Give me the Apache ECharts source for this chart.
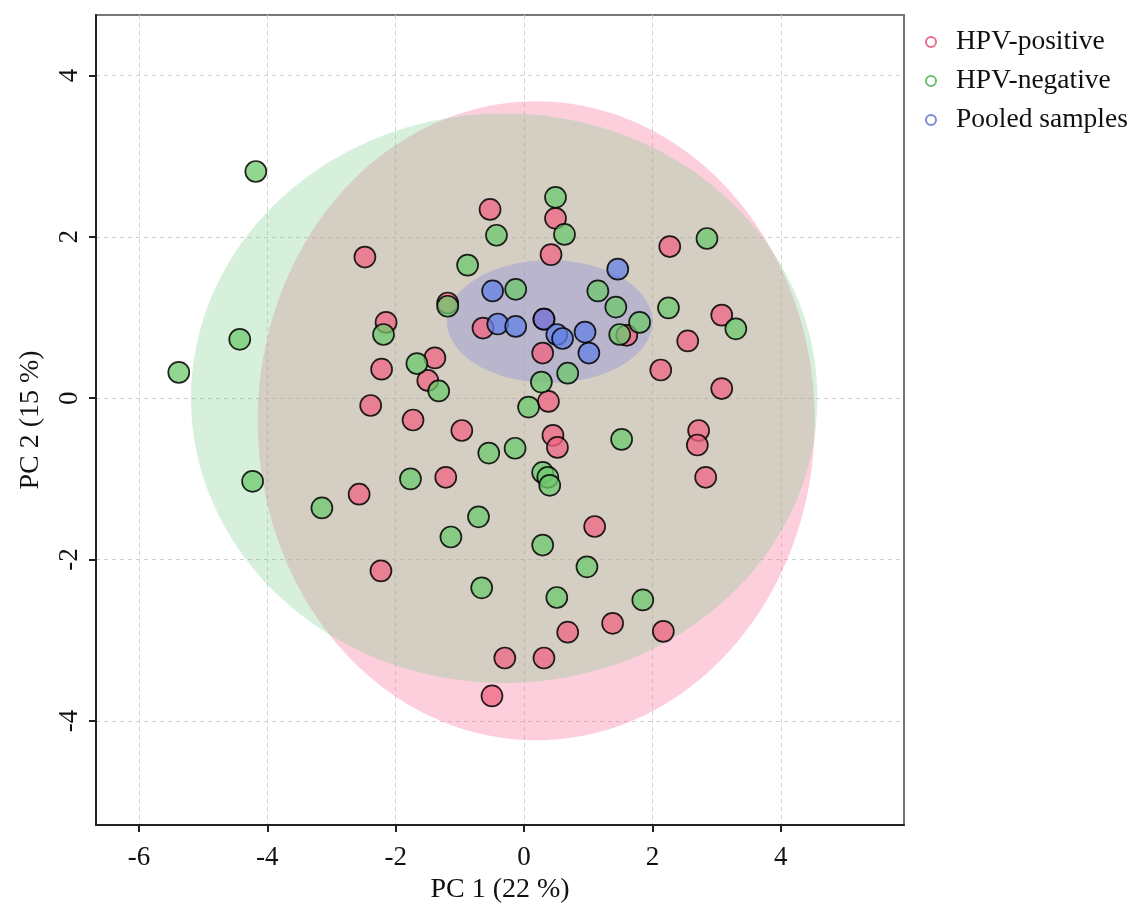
<!DOCTYPE html>
<html><head><meta charset="utf-8">
<script src="https://cdn.jsdelivr.net/npm/echarts@6/dist/echarts.min.js"></script>
<style>html,body{margin:0;padding:0;background:#fff}#main{width:1130px;height:911px}</style>
</head><body><div id="main"></div>
<script>
const seriesNames = ['HPV-positive', 'HPV-negative', 'Pooled samples'];

const positiveX = [-2.48,-2.15,-2.22,-2.39,-1.39,-1.50,-1.73,-0.97,-1.22,-2.57,-2.23,-1.19,-0.64,-0.53,0.49,0.42,0.31,0.29,0.38,0.45,0.52,1.10,0.68,-0.30,0.31,-0.50,1.38,2.17,2.83,2.72,2.70,2.27,2.55,3.08,3.08,2.13,1.60];
const positiveY = [1.75,0.94,0.36,-0.09,0.50,0.22,-0.27,-0.40,-0.98,-1.19,-2.14,1.18,0.87,2.34,2.23,1.78,0.98,0.56,-0.04,-0.46,-0.61,-1.59,-2.90,-3.22,-3.22,-3.69,-2.79,-2.89,-0.98,-0.40,-0.58,1.88,0.71,1.03,0.12,0.35,0.78];

const negativeX = [-4.18,-4.43,-5.38,-4.23,-3.15,-1.77,-1.14,-0.71,-0.66,-0.55,-0.14,0.07,0.27,0.68,0.29,0.51,0.98,1.85,1.52,0.29,0.37,0.40,-2.19,-1.67,-1.33,-1.19,-0.88,-0.43,-0.13,0.49,0.63,1.15,1.43,1.49,1.80,2.25,2.85,3.30];
const negativeY = [2.81,0.73,0.32,-1.03,-1.36,-1.00,-1.72,-1.47,-2.35,-0.68,-0.62,-0.11,0.20,0.31,-1.82,-2.47,-2.09,-2.50,-0.51,-0.92,-0.98,-1.08,0.79,0.43,0.09,1.14,1.65,2.02,1.35,2.49,2.03,1.33,1.13,0.79,0.94,1.12,1.98,0.86];

const pooledX = [-0.49,-0.41,-0.13,0.31,0.51,0.60,0.95,1.01,1.46];
const pooledY = [1.33,0.92,0.89,0.98,0.79,0.74,0.82,0.56,1.60];

// confidence ellipses: center, radii (data units), rotation (deg)
const ellipseCenterX = [0.19, -0.31, 0.40];
const ellipseCenterY = [-0.28, 0.00, 0.95];
const ellipseRadiusX = [4.34, 4.88, 1.60];
const ellipseRadiusY = [3.96, 3.53, 0.76];
const ellipseAngle   = [0, 0, 0];

const xTickValues = [-6, -4, -2, 0, 2, 4];
const yTickValues = [-4, -2, 0, 2, 4];
const xRange = [-6.67, 5.92];
const yRange = [-5.29, 4.75];

const pointFill = ['rgba(240,100,130,0.75)', 'rgba(110,200,110,0.75)', 'rgba(100,130,230,0.75)'];
const ellipseFill = ['rgba(250,110,150,0.33)', 'rgba(120,205,140,0.30)', 'rgba(110,120,230,0.28)'];
const legendColor = ['#e8708c', '#6cbf6c', '#7c8ad8'];
const FONT = 'Liberation Serif';

function zip(xs, ys) { return xs.map((x, i) => [x, ys[i]]); }

function ellipseSeries(i) {
  return {
    type: 'custom', name: 'ellipse' + i, silent: true, z: 1,
    data: [[ellipseCenterX[i], ellipseCenterY[i], ellipseRadiusX[i], ellipseRadiusY[i], ellipseAngle[i]]],
    encode: { x: 0, y: 1 },
    renderItem: function (params, api) {
      const cx = api.value(0), cy = api.value(1), rx = api.value(2), ry = api.value(3);
      const a = api.value(4) * Math.PI / 180;
      const pts = [];
      const N = 240;
      for (let k = 0; k < N; k++) {
        const t = k / N * Math.PI * 2;
        const ex = rx * Math.cos(t), ey = ry * Math.sin(t);
        pts.push(api.coord([cx + ex * Math.cos(a) - ey * Math.sin(a), cy + ex * Math.sin(a) + ey * Math.cos(a)]));
      }
      return { type: 'polygon', shape: { points: pts }, style: { fill: ellipseFill[i] } };
    }
  };
}

function pointSeries(i, xs, ys) {
  return {
    type: 'scatter', name: seriesNames[i], z: 3,
    data: zip(xs, ys), symbol: 'circle', symbolSize: 21,
    itemStyle: { color: pointFill[i], borderColor: 'rgba(0,0,0,0.85)', borderWidth: 1.7, opacity: 1 },
    emphasis: { disabled: true }
  };
}

const chart = echarts.init(document.getElementById('main'), null, { renderer: 'canvas' });
chart.setOption({
  backgroundColor: '#fff',
  animation: false,
  grid: { left: 96, right: 226, top: 15, bottom: 86, show: true, borderColor: '#777', borderWidth: 2, backgroundColor: 'transparent', containLabel: false, outerBoundsMode: 'none' },
  legend: {
    orient: 'vertical', left: 920, top: 23, itemWidth: 10, itemHeight: 10, itemGap: 11,
    data: seriesNames.map((n, i) => ({ name: n, icon: 'circle', itemStyle: { color: 'rgba(255,255,255,0)', borderColor: legendColor[i], borderWidth: 2 } })),
    textStyle: { fontFamily: FONT, fontSize: 27.5, color: '#111', padding: [0, 0, 0, 15] }
  },
  xAxis: {
    type: 'value', min: xRange[0], max: xRange[1],
    name: 'PC 1 (22 %)', nameLocation: 'middle', nameGap: 50,
    nameTextStyle: { fontFamily: FONT, fontSize: 28, color: '#111' },
    axisLine: { show: true, onZero: false, lineStyle: { color: '#222', width: 2 } },
    axisTick: { show: true, length: 7, customValues: xTickValues, lineStyle: { color: '#222', width: 2 } },
    axisLabel: { customValues: xTickValues, fontFamily: FONT, fontSize: 27, color: '#111', margin: 19 },
    splitLine: { show: true, lineStyle: { color: '#cfcfcf', width: 1, type: [4, 4] } }
  },
  yAxis: {
    type: 'value', min: yRange[0], max: yRange[1],
    name: 'PC 2 (15 %)', nameLocation: 'middle', nameGap: 51, nameRotate: 90,
    nameTextStyle: { fontFamily: FONT, fontSize: 28, color: '#111' },
    axisLine: { show: true, onZero: false, lineStyle: { color: '#222', width: 2 } },
    axisTick: { show: true, length: 7, customValues: yTickValues, lineStyle: { color: '#222', width: 2 } },
    axisLabel: { customValues: yTickValues, rotate: 90, fontFamily: FONT, fontSize: 27, color: '#111', margin: 13 },
    splitLine: { show: true, lineStyle: { color: '#cfcfcf', width: 1, type: [4, 4] } }
  },
  series: [
    ellipseSeries(0), ellipseSeries(1), ellipseSeries(2),
    pointSeries(0, positiveX, positiveY),
    pointSeries(1, negativeX, negativeY),
    pointSeries(2, pooledX, pooledY)
  ]
});
</script></body></html>
